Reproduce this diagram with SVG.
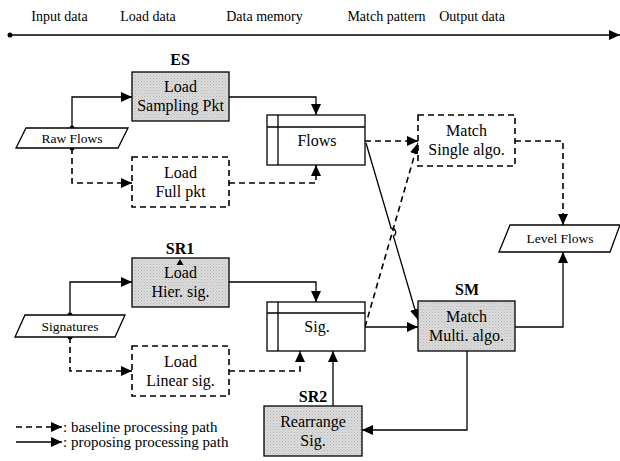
<svg xmlns="http://www.w3.org/2000/svg" width="620" height="461" viewBox="0 0 620 461">
<defs>
<pattern id="stip" width="3" height="3" patternUnits="userSpaceOnUse">
<rect width="3" height="3" fill="#dcdcdc"/>
<rect width="1" height="1" fill="#b4b4b4"/>
<rect x="1.5" y="1.5" width="1" height="1" fill="#bdbdbd"/>
</pattern>
<marker id="ah" markerUnits="userSpaceOnUse" markerWidth="12" markerHeight="10" refX="11" refY="5" orient="auto">
<path d="M0,0 L11,5 L0,10 Z" fill="#000"/>
</marker>
</defs>
<style>
text{font-family:'Liberation Serif','Times New Roman','DejaVu Serif',serif;fill:#000;text-anchor:middle}
.hd{font-size:14px}
.t{font-size:16px}
.s{font-size:13.5px}
.b{font-size:16px;font-weight:bold}
.lg{font-size:15px;text-anchor:start}
.gray{fill:url(#stip);stroke:#000;stroke-width:1.3}
.dash{fill:#fff;stroke:#000;stroke-width:1.6;stroke-dasharray:6,4}
.st{fill:#fff;stroke:#000;stroke-width:1.3}
.c{fill:none;stroke:#000;stroke-width:1.3}
.cd{fill:none;stroke:#000;stroke-width:1.6;stroke-dasharray:6,4}
</style>
<rect width="620" height="461" fill="#fff"/>
<g font-family="Liberation Serif, Times New Roman, serif">

<g id="header">
<text class="hd" x="59.5" y="21">Input data</text>
<text class="hd" x="148" y="21">Load data</text>
<text class="hd" x="264.5" y="21">Data memory</text>
<text class="hd" x="386.5" y="21">Match pattern</text>
<text class="hd" x="472" y="21">Output data</text>
<circle cx="10" cy="35" r="2.5" fill="#000"/>
<line x1="10" y1="35" x2="620" y2="35" stroke="#000" stroke-width="1.3" marker-end="url(#ah)"/>
</g>

<g id="connectors">
<path class="c" d="M72,128 L72,97 L132,97" marker-end="url(#ah)"/>
<path class="cd" d="M72,148 L72,183 L132,183" marker-end="url(#ah)"/>
<path class="c" d="M229,97 L316,97 L316,115" marker-end="url(#ah)"/>
<path class="cd" d="M229,183 L316,183 L316,165" marker-end="url(#ah)"/>
<path class="cd" d="M365,141 L418,141" marker-end="url(#ah)"/>
<path class="cd" d="M515,141 L563,141 L563,225" marker-end="url(#ah)"/>
<path class="c" d="M366,143 L391.2,228.5 A4,4 0 0 1 393.4,236.1 L418,320" marker-end="url(#ah)"/>
<path class="cd" d="M365,327 L418,143" marker-end="url(#ah)"/>
<path class="c" d="M70,315 L70,282 L132,282" marker-end="url(#ah)"/>
<path class="cd" d="M70,337 L70,371 L132,371" marker-end="url(#ah)"/>
<path class="c" d="M229,282 L316,282 L316,302" marker-end="url(#ah)"/>
<path class="cd" d="M229,371 L300,371 L300,351" marker-end="url(#ah)"/>
<path class="c" d="M365,327 L418,327" marker-end="url(#ah)"/>
<path class="c" d="M515,327 L563,327 L563,252" marker-end="url(#ah)"/>
<path class="c" d="M467,351 L467,430 L362,430" marker-end="url(#ah)"/>
<path class="c" d="M333,406 L333,351" marker-end="url(#ah)"/>
<circle cx="72" cy="128" r="2.5" fill="#000"/>
<circle cx="72" cy="148" r="2.5" fill="#000"/>
<circle cx="70" cy="315" r="2.5" fill="#000"/>
<circle cx="70" cy="337" r="2.5" fill="#000"/>
</g>

<g id="raw-flows">
<polygon class="st" points="26,128 128,128 118,148 16,148"/>
<text class="s" x="72" y="143">Raw Flows</text>
</g>

<g id="es">
<text class="b" x="180" y="65">ES</text>
<rect class="gray" x="132" y="72" width="97" height="49"/>
<text class="t" x="180.5" y="92">Load</text>
<text class="t" x="180.5" y="111">Sampling Pkt</text>
</g>

<g id="load-full">
<rect class="dash" x="132" y="157" width="97" height="50"/>
<text class="t" x="180.5" y="178">Load</text>
<text class="t" x="180.5" y="197">Full pkt</text>
</g>

<g id="flows">
<rect class="st" x="267" y="115" width="98" height="50"/>
<line x1="267" y1="127" x2="365" y2="127" stroke="#000" stroke-width="1.3"/>
<line x1="278" y1="115" x2="278" y2="165" stroke="#000" stroke-width="1.3"/>
<text class="t" x="317" y="146">Flows</text>
</g>

<g id="match-single">
<rect class="dash" x="418" y="115" width="97" height="51"/>
<text class="t" x="466.5" y="136">Match</text>
<text class="t" x="466.5" y="155">Single algo.</text>
</g>

<g id="level-flows">
<polygon class="st" points="510,225 620,225 610,252 499,252"/>
<text class="s" x="560" y="243">Level Flows</text>
</g>

<g id="sr1">
<text class="b" x="180" y="254">SR1</text>
<rect class="gray" x="132" y="258" width="97" height="49"/>
<path d="M176.5,265 L180,259 L183.5,265 Z" fill="#000"/>
<text class="t" x="180.5" y="278">Load</text>
<text class="t" x="180.5" y="297">Hier. sig.</text>
</g>

<g id="signatures">
<polygon class="st" points="25,315 125,315 115,337 15,337"/>
<text class="s" x="70" y="331">Signatures</text>
</g>

<g id="load-linear">
<rect class="dash" x="132" y="346" width="97" height="50"/>
<text class="t" x="180.5" y="367">Load</text>
<text class="t" x="180.5" y="386">Linear sig.</text>
</g>

<g id="sig">
<rect class="st" x="267" y="302" width="98" height="49"/>
<line x1="267" y1="313" x2="365" y2="313" stroke="#000" stroke-width="1.3"/>
<line x1="278" y1="302" x2="278" y2="351" stroke="#000" stroke-width="1.3"/>
<text class="t" x="317" y="332">Sig.</text>
</g>

<g id="sm">
<text class="b" x="467" y="295">SM</text>
<rect class="gray" x="418" y="301" width="97" height="50"/>
<text class="t" x="466.5" y="322">Match</text>
<text class="t" x="466.5" y="341">Multi. algo.</text>
</g>

<g id="sr2">
<text class="b" x="313" y="402">SR2</text>
<rect class="gray" x="264" y="406" width="98" height="50"/>
<text class="t" x="313" y="427">Rearrange</text>
<text class="t" x="313" y="446">Sig.</text>
</g>

<g id="legend">
<path class="cd" d="M16,427 L62,427" stroke-dasharray="5,4" marker-end="url(#ah)"/>
<text class="lg" x="63" y="432">: baseline processing path</text>
<path class="c" d="M16,442 L62,442" marker-end="url(#ah)"/>
<text class="lg" x="63" y="447">: proposing processing path</text>
</g>
</g>
</svg>
